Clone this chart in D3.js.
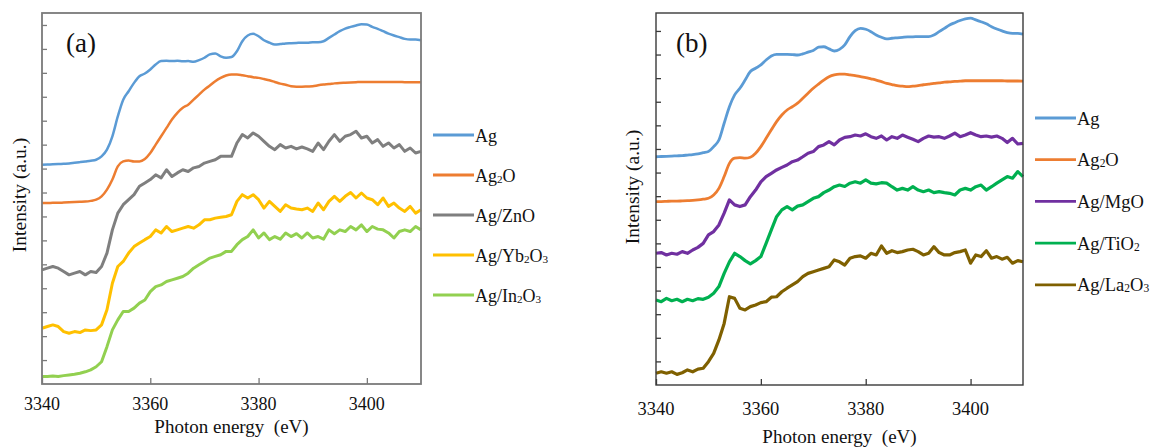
<!DOCTYPE html>
<html>
<head>
<meta charset="utf-8">
<script src="https://cdn.jsdelivr.net/npm/d3@7"></script>
<style>
  body { margin: 0; background: #fff; }
</style>
</head>
<body>
<div id="chart"></div>
<script>
// Photon energy grid (eV), shared by all spectra
const energy = [3340,3341,3342,3343,3344,3345,3346,3347,3348,3349,
  3350,3351,3352,3353,3354,3355,3356,3357,3358,3359,
  3360,3361,3362,3363,3364,3365,3366,3367,3368,3369,
  3370,3371,3372,3373,3374,3375,3376,3377,3378,3379,
  3380,3381,3382,3383,3384,3385,3386,3387,3388,3389,
  3390,3391,3392,3393,3394,3395,3396,3397,3398,3399,
  3400,3401,3402,3403,3404,3405,3406,3407,3408,3409,
  3410];

const xTicks = [3340, 3360, 3380, 3400];
const yTicks = [1,2,3,4,5,6,7,8,9,10,11,12,13,14,15];

// Panel (a) - offset intensities (a.u.)
const agA = [9.16,9.17,9.18,9.19,9.20,9.21,9.24,9.27,9.30,9.33,
  9.37,9.51,9.79,10.35,11.18,11.88,12.23,12.58,12.86,12.97,
  13.14,13.35,13.49,13.50,13.49,13.50,13.48,13.49,13.46,13.53,
  13.63,13.77,13.81,13.69,13.63,13.66,13.90,14.32,14.56,14.63,
  14.53,14.36,14.26,14.18,14.20,14.23,14.24,14.25,14.26,14.26,
  14.28,14.28,14.32,14.46,14.60,14.74,14.85,14.92,14.98,15.03,
  15.02,14.92,14.84,14.74,14.64,14.56,14.49,14.42,14.39,14.39,
  14.36];
const ag2oA = [7.56,7.56,7.57,7.57,7.58,7.59,7.60,7.61,7.62,7.65,
  7.70,7.84,8.12,8.54,9.09,9.30,9.34,9.30,9.30,9.40,
  9.65,10.00,10.35,10.70,11.05,11.33,11.54,11.67,11.88,12.09,
  12.30,12.47,12.65,12.79,12.89,12.93,12.93,12.90,12.86,12.82,
  12.79,12.74,12.69,12.62,12.55,12.50,12.44,12.42,12.42,12.43,
  12.44,12.48,12.51,12.53,12.56,12.58,12.59,12.60,12.61,12.62,
  12.62,12.62,12.62,12.62,12.62,12.62,12.62,12.61,12.61,12.61,
  12.61];
const znoA = [4.77,4.84,4.91,4.84,4.70,4.56,4.63,4.70,4.56,4.70,
  4.66,4.91,5.47,6.44,7.14,7.49,7.70,7.91,8.26,8.40,
  8.54,8.74,8.61,8.95,8.67,8.82,8.95,8.88,9.03,9.09,
  9.23,9.30,9.37,9.51,9.51,9.51,10.07,10.42,10.28,10.49,
  10.35,10.14,9.93,9.79,10.00,9.86,9.93,9.82,9.90,9.82,
  9.72,10.07,9.79,10.14,10.42,10.14,10.35,10.42,10.56,10.28,
  10.35,10.07,10.21,9.93,10.07,9.86,10.00,9.72,9.86,9.65,
  9.72];
const yb2o3A = [2.33,2.40,2.47,2.40,2.19,2.12,2.19,2.15,2.26,2.23,
  2.26,2.47,3.10,4.21,4.91,5.12,5.47,5.74,5.89,6.03,
  6.16,6.44,6.31,6.58,6.37,6.44,6.51,6.58,6.51,6.65,
  6.86,6.86,6.93,6.97,7.00,7.07,7.63,7.91,7.77,7.91,
  7.70,7.35,7.63,7.42,7.21,7.49,7.35,7.31,7.28,7.35,
  7.21,7.56,7.28,7.63,7.84,7.63,7.84,8.00,7.77,7.98,
  7.77,7.70,7.49,7.77,7.42,7.56,7.35,7.21,7.42,7.14,
  7.28];
const in2o3A = [0.31,0.31,0.33,0.31,0.35,0.38,0.41,0.45,0.51,0.59,
  0.72,0.93,1.56,2.26,2.68,3.03,3.03,3.17,3.38,3.51,
  3.86,4.07,4.14,4.28,4.35,4.42,4.49,4.63,4.84,4.98,
  5.12,5.26,5.33,5.40,5.54,5.54,5.82,6.03,6.16,6.44,
  6.10,6.31,6.03,6.16,6.05,6.31,6.16,6.28,6.10,6.31,
  6.10,6.16,6.05,6.44,6.28,6.44,6.37,6.58,6.44,6.65,
  6.37,6.58,6.47,6.44,6.31,6.10,6.37,6.44,6.37,6.58,
  6.44];

// Panel (b) - offset intensities (a.u.)
const agB = [9.67,9.68,9.69,9.70,9.71,9.72,9.74,9.76,9.79,9.84,
  9.89,10.10,10.38,11.09,11.79,12.29,12.57,12.92,13.28,13.42,
  13.56,13.77,13.94,14.01,14.01,14.01,14.00,13.98,14.03,14.10,
  14.17,14.31,14.33,14.24,14.15,14.22,14.41,14.76,15.01,15.11,
  15.07,14.97,14.83,14.73,14.66,14.69,14.71,14.73,14.75,14.75,
  14.76,14.76,14.76,14.83,14.97,15.11,15.25,15.35,15.44,15.51,
  15.54,15.47,15.39,15.30,15.18,15.08,15.00,14.93,14.90,14.90,
  14.87];
const ag2oB = [7.77,7.77,7.78,7.79,7.79,7.80,7.81,7.82,7.84,7.87,
  7.91,8.05,8.33,8.83,9.39,9.61,9.63,9.61,9.65,9.82,
  10.10,10.45,10.81,11.16,11.44,11.65,11.79,11.94,12.15,12.36,
  12.57,12.75,12.92,13.06,13.14,13.17,13.17,13.14,13.11,13.06,
  13.02,12.97,12.92,12.85,12.78,12.73,12.68,12.66,12.64,12.66,
  12.68,12.72,12.75,12.78,12.80,12.83,12.84,12.86,12.87,12.89,
  12.89,12.89,12.89,12.89,12.89,12.89,12.89,12.88,12.88,12.88,
  12.87];
const mgoB = [5.58,5.61,5.51,5.58,5.54,5.65,5.58,5.72,5.83,6.00,
  6.36,6.50,6.78,7.28,7.84,7.63,7.56,7.63,7.98,8.26,
  8.61,8.83,8.97,9.11,9.22,9.32,9.46,9.53,9.67,9.82,
  9.89,10.10,10.17,10.31,10.17,10.38,10.49,10.52,10.59,10.55,
  10.64,10.52,10.45,10.55,10.38,10.52,10.45,10.59,10.50,10.41,
  10.31,10.45,10.55,10.50,10.52,10.45,10.55,10.67,10.52,10.59,
  10.69,10.59,10.52,10.55,10.50,10.55,10.45,10.27,10.45,10.21,
  10.24];
const tio2B = [3.60,3.53,3.67,3.57,3.63,3.53,3.63,3.57,3.66,3.63,
  3.72,3.89,4.17,4.73,5.22,5.58,5.44,5.27,5.13,5.27,
  5.44,6.00,6.57,7.13,7.42,7.56,7.42,7.58,7.63,7.77,
  7.91,7.98,8.15,8.26,8.40,8.47,8.41,8.55,8.61,8.55,
  8.69,8.55,8.52,8.57,8.55,8.40,8.26,8.33,8.26,8.40,
  8.26,8.19,8.26,8.15,8.19,8.15,8.12,8.05,8.26,8.33,
  8.26,8.40,8.47,8.26,8.40,8.55,8.69,8.83,8.76,9.04,
  8.83];
const la2o3B = [0.50,0.56,0.50,0.56,0.45,0.52,0.64,0.56,0.67,0.71,
  0.99,1.34,1.91,2.61,3.74,3.67,3.25,3.18,3.32,3.39,
  3.49,3.53,3.72,3.74,3.95,4.10,4.24,4.38,4.59,4.73,
  4.80,4.87,4.94,5.01,5.30,5.22,5.08,5.37,5.44,5.47,
  5.37,5.58,5.51,5.89,5.58,5.69,5.61,5.65,5.72,5.75,
  5.65,5.51,5.58,5.86,5.61,5.51,5.51,5.61,5.65,5.72,
  5.16,5.51,5.44,5.69,5.37,5.44,5.33,5.41,5.16,5.27,
  5.22];

// legend names, "_n" marks a subscript digit
const namesA = ["Ag", "Ag_2O", "Ag/ZnO", "Ag/Yb_2O_3", "Ag/In_2O_3"];
const namesB = ["Ag", "Ag_2O", "Ag/MgO", "Ag/TiO_2", "Ag/La_2O_3"];
const colorsA = ["#5b9bd5", "#ed7d31", "#7f7f7f", "#ffc000", "#92d050"];
const colorsB = ["#5b9bd5", "#ed7d31", "#7030a0", "#00b050", "#7f6000"];

const FONT = "'Liberation Serif', 'Times New Roman', Times, serif";
const INK = "#111";

const panels = [
  {tag: "(a)", names: namesA, colors: colorsA,
   values: [agA, ag2oA, znoA, yb2o3A, in2o3A], smooth: [true, true, false, false, false],
   left: 42, right: 421, top: 13, bottom: 384, yMax: 15.5, frame: "#7a7a7a", frameW: 1.8,
   tickLabelY: 410, tickFont: 18, titleY: 433, yLabelX: 26, yLabelY: 195,
   tagX: 66, legendX: 433, legendY: 135, legendStep: 40, legendFont: 18, lwSmooth: 2.5, lwNoisy: 3},
  {tag: "(b)", names: namesB, colors: colorsB,
   values: [agB, ag2oB, mgoB, tio2B, la2o3B], smooth: [true, true, false, false, false],
   left: 656, right: 1023, top: 13, bottom: 385, yMax: 15.76, frame: "#3a3a3a", frameW: 1.4,
   tickLabelY: 415, tickFont: 18.5, titleY: 443, yLabelX: 639, yLabelY: 187,
   tagX: 676, legendX: 1035, legendY: 118, legendStep: 41.7, legendFont: 18.5, lwSmooth: 2.8, lwNoisy: 3.2}
];

const svg = d3.select("#chart").append("svg")
  .attr("width", 1151)
  .attr("height", 447)
  .attr("font-family", FONT)
  .style("background", "#fff");

function addLabel(sel, label, size) {
  const parts = label.split(/_(\d)/);
  parts.forEach((p, i) => {
    if (p === "") return;
    if (i % 2 === 1) {
      sel.append("tspan").attr("font-size", size * 0.62).attr("dy", 1).text(p);
    } else {
      const t = sel.append("tspan").text(p);
      if (i > 0) t.attr("dy", -1);
    }
  });
}

panels.forEach(p => {
  const x = d3.scaleLinear().domain([3340, 3410]).range([p.left, p.right]);
  const y = d3.scaleLinear().domain([0, p.yMax]).range([p.bottom, p.top]);
  const g = svg.append("g");

  // spectra
  p.values.forEach((vals, i) => {
    const line = d3.line()
      .x((d, j) => x(energy[j]))
      .y(d => y(d))
      .curve(p.smooth[i] ? d3.curveMonotoneX : d3.curveLinear);
    g.append("path")
      .datum(vals)
      .attr("fill", "none")
      .attr("stroke", p.colors[i])
      .attr("stroke-width", p.smooth[i] ? p.lwSmooth : p.lwNoisy)
      .attr("stroke-linejoin", "round")
      .attr("d", line);
  });

  // frame
  g.append("rect")
    .attr("x", p.left).attr("y", p.top)
    .attr("width", p.right - p.left).attr("height", p.bottom - p.top)
    .attr("fill", "none").attr("stroke", p.frame).attr("stroke-width", p.frameW);

  // inward ticks
  const yAxis = d3.axisRight(y).tickValues(yTicks).tickSize(5).tickFormat("");
  const ya = g.append("g").attr("transform", `translate(${p.left},0)`).call(yAxis);
  ya.select(".domain").remove();
  ya.selectAll("line").attr("stroke", p.frame).attr("stroke-width", 1.3);

  const xAxis = d3.axisTop(x).tickValues(xTicks).tickSize(6).tickFormat("");
  const xa = g.append("g").attr("transform", `translate(0,${p.bottom})`).call(xAxis);
  xa.select(".domain").remove();
  xa.selectAll("line").attr("stroke", p.frame).attr("stroke-width", 1.3);

  // tick labels below the frame
  g.selectAll("text.xtick")
    .data(xTicks)
    .enter().append("text")
    .attr("class", "xtick")
    .attr("x", d => x(d))
    .attr("y", p.tickLabelY)
    .attr("text-anchor", "middle")
    .attr("font-family", FONT)
    .attr("fill", INK)
    .attr("font-size", p.tickFont)
    .text(d => d);

  g.append("text")
    .attr("x", (p.left + p.right) / 2)
    .attr("y", p.titleY)
    .attr("text-anchor", "middle")
    .attr("font-family", FONT)
    .attr("fill", INK)
    .attr("font-size", 19)
    .attr("xml:space", "preserve")
    .text("Photon energy  (eV)");

  g.append("text")
    .attr("transform", `translate(${p.yLabelX},${p.yLabelY}) rotate(-90)`)
    .attr("text-anchor", "middle")
    .attr("font-family", FONT)
    .attr("fill", INK)
    .attr("font-size", 19.5)
    .text("Intensity (a.u.)");

  g.append("text")
    .attr("x", p.tagX)
    .attr("y", 52)
    .attr("font-family", FONT)
    .attr("fill", INK)
    .attr("font-size", 27)
    .text(p.tag);

  // legend
  p.names.forEach((name, i) => {
    const ly = p.legendY + i * p.legendStep;
    g.append("line")
      .attr("x1", p.legendX).attr("x2", p.legendX + 41)
      .attr("y1", ly).attr("y2", ly)
      .attr("stroke", p.colors[i]).attr("stroke-width", 2.8);
    const t = g.append("text")
      .attr("x", p.legendX + 42)
      .attr("y", ly + 6.5)
      .attr("font-family", FONT)
      .attr("fill", INK)
      .attr("font-size", p.legendFont);
    addLabel(t, name, p.legendFont);
  });
});
</script>
</body>
</html>
